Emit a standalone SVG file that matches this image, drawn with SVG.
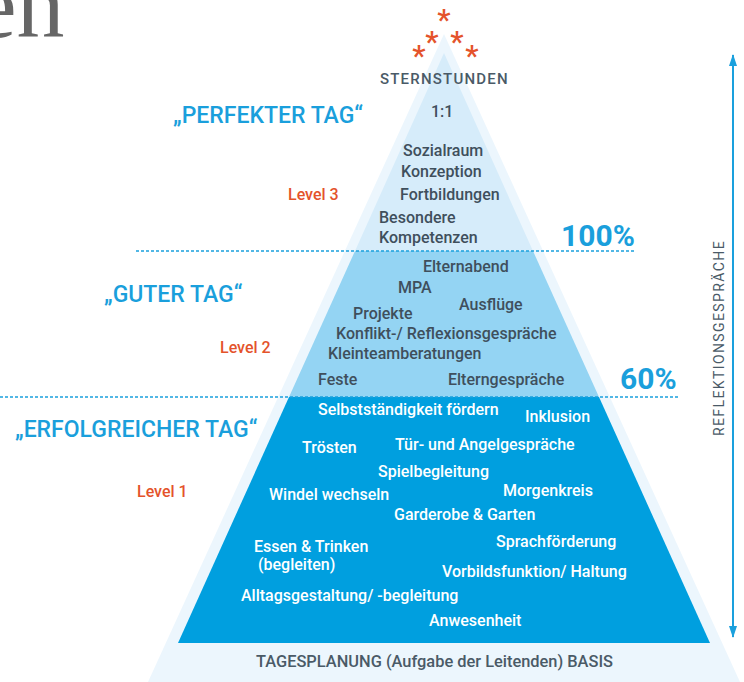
<svg xmlns="http://www.w3.org/2000/svg" width="744" height="682" viewBox="0 0 744 682">
<defs>
<style>
text{font-family:Roboto,"Liberation Sans",sans-serif;}
.dk{fill:#3f4f5c;font-size:16px;font-weight:500;}
.wh{fill:#ffffff;font-size:16px;font-weight:500;}
.tag{fill:#1a9fdc;font-size:23px;font-weight:500;}
.lvl{fill:#e4532b;font-size:16px;font-weight:500;}
.pct{fill:#1a9fdc;font-size:30px;font-weight:700;}
.ast{fill:#e4532b;font-size:30px;font-weight:500;text-anchor:middle;}
.dash{stroke:#1aa0dd;stroke-width:1.3;stroke-dasharray:3 2;fill:none;}
</style>
<marker id="ah" viewBox="0 0 12 8" refX="11" refY="4" markerWidth="12" markerHeight="8" markerUnits="userSpaceOnUse" orient="auto-start-reverse">
<path d="M0,0 L12,4 L0,8 Z" fill="#1aa0dd"/>
</marker>
</defs>
<rect width="744" height="682" fill="#ffffff"/>
<text x="-26" y="37" style="font-family:'Liberation Serif',serif;font-size:96px;fill:#666666;">en</text>

<g id="pyramid-outer"><polygon points="444,34 740,682 148,682" fill="#ecf6fd"/></g>
<g id="level3"><polygon points="444,53 533,251 355,251" fill="#d6ecfa"/>
<text class="dk" x="380" y="84" style="font-size:15px;letter-spacing:1.2px;fill:#4a5a67;">STERNSTUNDEN</text>
<text class="dk" x="431" y="117">1:1</text>
<text class="dk" x="403" y="156">Sozialraum</text>
<text class="dk" x="401" y="177">Konzeption</text>
<text class="dk" x="400" y="200">Fortbildungen</text>
<text class="dk" x="379" y="223">Besondere</text>
<text class="dk" x="379" y="243">Kompetenzen</text>
</g>
<g id="level2"><polygon points="355,251 533,251 599,397 289,397" fill="#94d4f3"/>
<text class="dk" x="423" y="272">Elternabend</text>
<text class="dk" x="398" y="293">MPA</text>
<text class="dk" x="459" y="310">Ausflüge</text>
<text class="dk" x="353" y="319">Projekte</text>
<text class="dk" x="336" y="339">Konflikt-/ Reflexionsgespräche</text>
<text class="dk" x="328" y="359">Kleinteamberatungen</text>
<text class="dk" x="318" y="385">Feste</text>
<text class="dk" x="448" y="385">Elterngespräche</text>
</g>
<g id="level1"><polygon points="289,397 599,397 710,643 178,643" fill="#009fdf"/>
<text class="wh" x="318" y="415">Selbstständigkeit fördern</text>
<text class="wh" x="525" y="422">Inklusion</text>
<text class="wh" x="302" y="453">Trösten</text>
<text class="wh" x="395" y="450">Tür- und Angelgespräche</text>
<text class="wh" x="378" y="477">Spielbegleitung</text>
<text class="wh" x="269" y="500">Windel wechseln</text>
<text class="wh" x="503" y="496">Morgenkreis</text>
<text class="wh" x="394" y="520">Garderobe &amp; Garten</text>
<text class="wh" x="254" y="552">Essen &amp; Trinken</text>
<text class="wh" x="258" y="570">(begleiten)</text>
<text class="wh" x="496" y="547">Sprachförderung</text>
<text class="wh" x="442" y="577">Vorbildsfunktion/ Haltung</text>
<text class="wh" x="241" y="601">Alltagsgestaltung/ -begleitung</text>
<text class="wh" x="429" y="626">Anwesenheit</text>
</g>
<g id="basis"><text class="dk" x="256" y="667" style="font-size:16.4px;fill:#4a5a67;">TAGESPLANUNG (Aufgabe der Leitenden) BASIS</text></g>
<g id="stars">
<text class="ast" x="444" y="30">*</text>
<text class="ast" x="432" y="52">*</text>
<text class="ast" x="457" y="52">*</text>
<text class="ast" x="419" y="66">*</text>
<text class="ast" x="472" y="66">*</text>
</g>
<g id="labels">
<text class="tag" x="173" y="123">„PERFEKTER TAG“</text>
<text class="tag" x="104" y="302">„GUTER TAG“</text>
<text class="tag" x="15" y="437">„ERFOLGREICHER TAG“</text>
<text class="lvl" x="288" y="200">Level 3</text>
<text class="lvl" x="220" y="353">Level 2</text>
<text class="lvl" x="137" y="497">Level 1</text>
<text class="pct" x="561" y="246">100%</text>
<text class="pct" x="620" y="389">60%</text>
</g>
<g id="connectors">
<line class="dash" x1="136" y1="251" x2="634" y2="251"/>
<line class="dash" x1="0" y1="397" x2="680" y2="397"/>
<line x1="733" y1="55" x2="733" y2="637" stroke="#1aa0dd" stroke-width="2" marker-start="url(#ah)" marker-end="url(#ah)"/>
</g>
<g id="reflektion"><text class="dk" transform="translate(724,338) rotate(-90)" text-anchor="middle" style="font-size:14px;font-weight:400;letter-spacing:1.4px;fill:#4a5a67;">REFLEKTIONSGESPRÄCHE</text></g>
</svg>
